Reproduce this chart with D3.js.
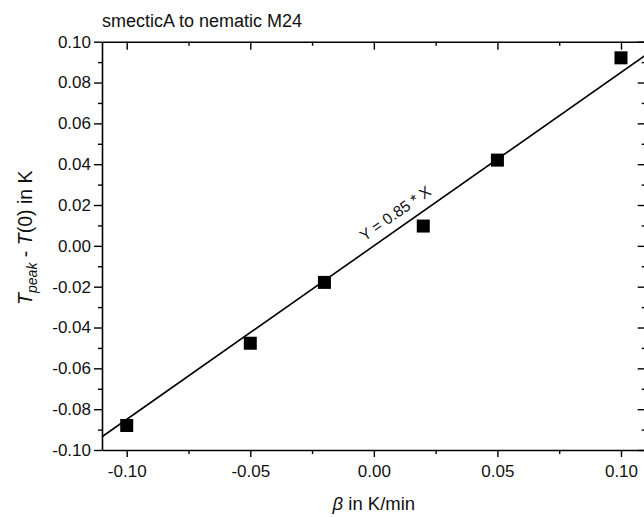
<!DOCTYPE html>
<html>
<head>
<meta charset="utf-8">
<script src="https://cdn.jsdelivr.net/npm/d3@7"></script>
<style>
body { margin: 0; background: #fff; }
svg { display: block; font-family: "Liberation Sans", Arial, sans-serif; }
</style>
</head>
<body>
<div id="chartDiv"></div>
<script>
// measured data: heating rate vs. peak shift
var rates = [-0.10, -0.05, -0.02, 0.02, 0.05, 0.10];
var shifts = [-0.088, -0.0477, -0.0179, 0.0097, 0.042, 0.0921];
var fitSlope = 0.85;
var xTicks = [-0.10, -0.05, 0.00, 0.05, 0.10];
var yTicks = [-0.10, -0.08, -0.06, -0.04, -0.02, 0.00, 0.02, 0.04, 0.06, 0.08, 0.10];

var width = 644, height = 517;
var margin = {top: 41.7, left: 102, bottom: 67, right: -1.7};

var svg = d3.select("#chartDiv")
    .append("svg")
    .attr("width", width)
    .attr("height", height);

var x = d3.scaleLinear()
    .domain([-0.11, 0.11])
    .range([margin.left, width - margin.right]);
var y = d3.scaleLinear()
    .domain([-0.10, 0.10])
    .range([height - margin.bottom, margin.top]);

var fmt = function (d) { return d.toFixed(2); };
var xMinor = d3.range(-0.10, 0.1001, 0.025).filter(function (d) { return Math.abs(Math.round(d * 40)) % 2 == 1; });
var yMinor = d3.range(-0.09, 0.0901, 0.02);

//axes with outward ticks at bottom / left, mirrored inward ticks at top / right
function styleAxis(g) {
    g.selectAll("path").attr("stroke-width", 1.6);
    g.selectAll("line").attr("stroke-width", 1.4);
    g.selectAll("text").attr("font-size", 17).attr("fill", "#111");
}

svg.append("g")
    .attr("transform", "translate(0," + y(-0.10) + ")")
    .call(d3.axisBottom(x).tickValues(xTicks).tickFormat(fmt).tickSizeInner(7).tickSizeOuter(0).tickPadding(8))
    .call(styleAxis);
svg.append("g")
    .attr("transform", "translate(0," + y(-0.10) + ")")
    .call(d3.axisBottom(x).tickValues(xMinor).tickFormat("").tickSize(4))
    .call(styleAxis)
    .select(".domain").remove();

svg.append("g")
    .attr("transform", "translate(0," + y(0.10) + ")")
    .call(d3.axisBottom(x).tickValues(xTicks).tickFormat("").tickSizeInner(8).tickSizeOuter(0))
    .call(styleAxis);
svg.append("g")
    .attr("transform", "translate(0," + y(0.10) + ")")
    .call(d3.axisBottom(x).tickValues(xMinor).tickFormat("").tickSize(4))
    .call(styleAxis)
    .select(".domain").remove();

svg.append("g")
    .attr("transform", "translate(" + x(-0.11) + ",0)")
    .call(d3.axisLeft(y).tickValues(yTicks).tickFormat(fmt).tickSizeInner(8).tickSizeOuter(0).tickPadding(3))
    .call(styleAxis);
svg.append("g")
    .attr("transform", "translate(" + x(-0.11) + ",0)")
    .call(d3.axisLeft(y).tickValues(yMinor).tickFormat("").tickSize(4))
    .call(styleAxis)
    .select(".domain").remove();

svg.append("g")
    .attr("transform", "translate(" + x(0.11) + ",0)")
    .call(d3.axisLeft(y).tickValues(yTicks).tickFormat("").tickSizeInner(8).tickSizeOuter(0))
    .call(styleAxis);
svg.append("g")
    .attr("transform", "translate(" + x(0.11) + ",0)")
    .call(d3.axisLeft(y).tickValues(yMinor).tickFormat("").tickSize(4))
    .call(styleAxis)
    .select(".domain").remove();

// fit line Y = 0.85 * X
var line = d3.line()
    .x(function (d) { return x(d); })
    .y(function (d) { return y(fitSlope * d); });
svg.append("path")
    .datum([-0.11, 0.11])
    .attr("d", line)
    .attr("fill", "none")
    .attr("stroke", "#000")
    .attr("stroke-width", 1.6);

// points
svg.append("g")
    .selectAll("rect")
    .data(rates)
    .enter().append("rect")
    .attr("x", function (d) { return x(d) - 6.5; })
    .attr("y", function (d, i) { return y(shifts[i]) - 6.5; })
    .attr("width", 13)
    .attr("height", 13)
    .attr("fill", "#000");

// fit label along the line
var lx = 0.012;
var angle = Math.atan2(y(fitSlope * 0.05) - y(fitSlope * -0.05), x(0.05) - x(-0.05)) * 180 / Math.PI;
svg.append("text")
    .attr("transform", "translate(" + x(lx) + "," + y(fitSlope * lx) + ") rotate(" + angle + ")")
    .attr("text-anchor", "middle")
    .attr("dy", -9)
    .attr("font-size", 15.5)
    .attr("fill", "#111")
    .text("Y = 0.85 * X");

// title
svg.append("text")
    .attr("x", 102)
    .attr("y", 27)
    .attr("font-size", 18)
    .attr("fill", "#111")
    .text("smecticA to nematic M24");

// x label
var xl = svg.append("text")
    .attr("x", x(0))
    .attr("y", 510)
    .attr("text-anchor", "middle")
    .attr("font-size", 18.5)
    .attr("fill", "#111");
xl.append("tspan").attr("font-style", "italic").text("β");
xl.append("tspan").text(" in K/min");

// y label
var yl = svg.append("text")
    .attr("transform", "translate(32," + y(0.004) + ") rotate(-90)")
    .attr("text-anchor", "middle")
    .attr("font-size", 19.5)
    .attr("fill", "#111");
yl.append("tspan").attr("font-style", "italic").text("T");
yl.append("tspan").attr("font-style", "italic").attr("font-size", 14).attr("dy", 5).text("peak");
yl.append("tspan").attr("dy", -5).text(" - ");
yl.append("tspan").attr("font-style", "italic").text("T");
yl.append("tspan").text("(0) in K");
</script>
</body>
</html>
